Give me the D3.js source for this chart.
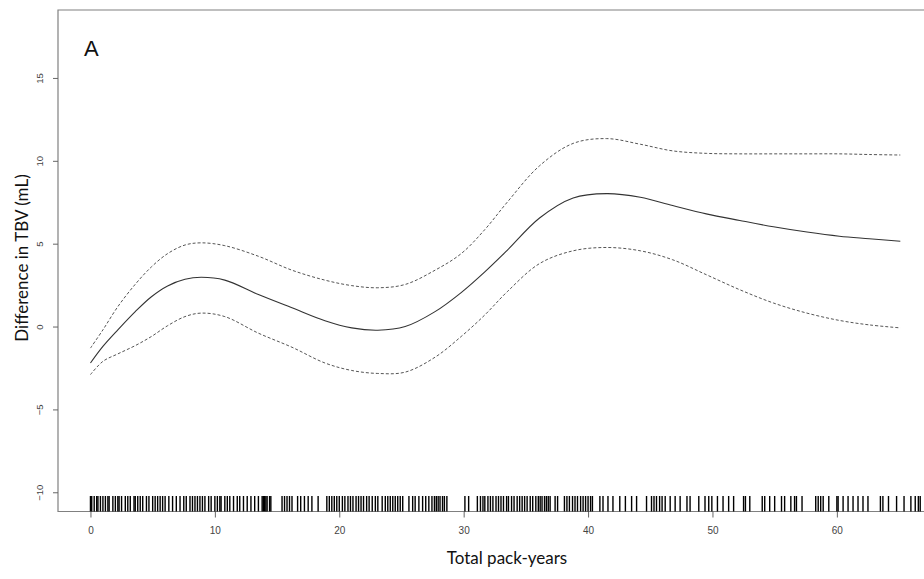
<!DOCTYPE html>
<html>
<head>
<meta charset="utf-8">
<script src="https://cdn.jsdelivr.net/npm/d3@7"></script>
<style>
  body { margin: 0; background: #fff; }
  svg { display: block; }
</style>
</head>
<body>
<div id="chart"></div>
<script>
// pack-years grid and spline estimates
const packYears = [0, 1, 2.2, 3.6, 4.9, 6.2, 7.6, 8.9, 10.8, 13.5, 16.2, 18.85, 21, 23.1, 25.3, 27.7,
  29.8, 31.7, 33.5, 36.1, 38.8, 41.5, 44.2, 46.8, 49.5, 52.2, 54.9, 57.6, 60.2, 62.6, 65.1];
const fit = [-2.2, -1.2, -0.2, 0.9, 1.8, 2.45, 2.85, 2.97, 2.8, 1.93, 1.13, 0.35, -0.08, -0.22, 0.0, 0.9,
  2.05, 3.3, 4.6, 6.55, 7.76, 8.02, 7.8, 7.3, 6.8, 6.4, 6.02, 5.7, 5.45, 5.3, 5.15];
const upper = [-1.3, -0.2, 1.2, 2.55, 3.6, 4.4, 4.92, 5.05, 4.88, 4.24, 3.4, 2.8, 2.47, 2.34, 2.54, 3.4,
  4.4, 5.85, 7.5, 9.7, 11.05, 11.34, 11.0, 10.6, 10.45, 10.42, 10.42, 10.42, 10.42, 10.38, 10.35];
const lower = [-2.9, -2.1, -1.65, -1.15, -0.6, 0.05, 0.6, 0.81, 0.6, -0.4, -1.25, -2.2, -2.65, -2.83, -2.75, -1.85,
  -0.6, 0.7, 2.1, 3.8, 4.57, 4.77, 4.57, 4.03, 3.13, 2.22, 1.42, 0.81, 0.37, 0.1, -0.08];

// rug of observed pack-years
const rug = [
  0, 0.1, 0.3, 0.5, 0.6, 0.8, 1, 1.2, 1.4, 1.5, 1.8, 2, 2.2, 2.3, 2.5, 2.8, 3, 3.2, 3.5, 3.6, 3.8, 4, 4.2,
  4.5, 4.7, 5, 5.2, 5.4, 5.6, 5.8, 6, 6.3, 6.6, 6.9, 7.2, 7.5, 7.7, 8, 8.2, 8.4, 8.6, 8.8, 9, 9.2, 9.5,
  9.7, 10, 10.2, 10.4, 10.5, 10.8, 11, 11.2, 11.5, 11.8, 12, 12.3, 12.6, 12.9, 13.2, 13.5, 13.8, 13.9,
  14, 14.1, 14.2, 14.4, 14.5, 15.4, 15.6, 15.8, 16, 16.2,
  16.65, 16.9, 17.2, 17.5, 17.8, 18.3, 19.0, 19.2, 19.4, 19.6, 19.8, 20.0, 20.25, 20.45, 20.7, 20.9,
  21.1, 21.35, 21.55, 21.75, 21.95, 22.2, 22.4, 22.65, 22.9, 23.1, 23.45, 23.7, 23.9, 24.1, 24.3, 24.5,
  24.7, 24.9, 25.1, 25.6, 25.9, 26.1, 26.4, 26.7, 26.95, 27.2, 27.45, 27.65, 27.8, 27.95, 28.1, 28.3,
  28.45, 28.65, 30.1, 30.4, 31.1, 31.35, 31.55, 31.7, 31.95, 32.15, 32.35, 32.6, 32.8, 33.0, 33.2,
  33.45, 33.6, 33.85, 34.05, 34.3, 34.5, 34.7, 34.9, 35.1, 35.35, 35.55, 35.8, 36.0, 36.15, 36.3, 36.5,
  36.65, 36.8, 36.95, 37.35, 37.55, 38.1, 38.3, 38.5, 38.75, 38.95, 39.15, 39.4, 39.6, 39.8, 40.0,
  40.2, 40.35, 40.95, 41.2, 41.6, 42.0, 42.55, 43.0, 43.5, 43.9, 44.7, 45.1, 45.3, 45.5, 45.75, 45.95,
  46.2, 46.6, 47.0, 47.4, 47.95, 48.2, 48.9, 49.4, 49.7, 49.95,
  50.4, 50.85, 51.3, 51.7, 52.5, 52.65, 53.0, 54.0, 54.2, 54.6, 55.0, 55.55, 55.8, 56.3, 56.6, 56.75,
  57.2, 58.3, 58.5, 58.7, 58.9, 59.35, 60.0, 60.1, 60.5, 60.9, 61.3, 61.7, 62.1, 62.5, 63.5, 63.7,
  64.15, 64.8, 65.4, 65.95, 66.3, 66.55, 66.7
];

const xTicks = [0, 10, 20, 30, 40, 50, 60];
const yTicks = [-10, -5, 0, 5, 10, 15];

const w = 924;
const h = 579;
const plotLeft = 58;
const plotTop = 10;
const plotBottom = 511.5;

const svg = d3.select('#chart')
  .append('svg')
  .attr('width', w)
  .attr('height', h);

const xScale = d3.scaleLinear()
  .domain([-2.61, 67.5])
  .range([plotLeft, plotLeft + 70.11 * 12.44]);

const yScale = d3.scaleLinear()
  .domain([-11.16, 19.1])
  .range([plotBottom, plotTop]);

// frame (right side falls outside the picture)
svg.append('path')
  .attr('d', `M${w + 5},${plotTop}H${plotLeft}V${plotBottom}H${w + 5}`)
  .attr('fill', 'none')
  .attr('stroke', '#808080')
  .attr('stroke-width', 1.2);

const xAxis = d3.axisBottom(xScale)
  .tickValues(xTicks)
  .tickSize(6)
  .tickSizeOuter(0);

const gx = svg.append('g')
  .attr('transform', `translate(0,${plotBottom})`)
  .call(xAxis);
gx.select('.domain').remove();
gx.selectAll('line').attr('stroke', '#666');
gx.selectAll('text')
  .attr('y', 15)
  .attr('fill', '#444')
  .attr('font-family', 'Liberation Sans, Arial, sans-serif')
  .attr('font-size', '10px');

const yAxis = d3.axisLeft(yScale)
  .tickValues(yTicks)
  .tickSize(5)
  .tickSizeOuter(0);

const gy = svg.append('g')
  .attr('transform', `translate(${plotLeft},0)`)
  .call(yAxis);
gy.select('.domain').remove();
gy.selectAll('line').attr('stroke', '#666');
gy.selectAll('text')
  .attr('x', null)
  .attr('dy', null)
  .attr('text-anchor', 'middle')
  .attr('transform', 'translate(-15,0) rotate(-90)')
  .attr('fill', '#444')
  .attr('font-family', 'Liberation Sans, Arial, sans-serif')
  .attr('font-size', '9.5px');

// rug
svg.append('g')
  .selectAll('line')
  .data(rug)
  .enter()
  .append('line')
  .attr('x1', d => xScale(d))
  .attr('x2', d => xScale(d))
  .attr('y1', plotBottom - 15.5)
  .attr('y2', plotBottom)
  .attr('stroke', '#000')
  .attr('stroke-width', 1.4);

const line = series => d3.line()
  .x((d, i) => xScale(packYears[i]))
  .y(d => yScale(d))
  .curve(d3.curveCatmullRom.alpha(0.5))(series);

svg.append('path')
  .attr('d', line(fit))
  .attr('fill', 'none')
  .attr('stroke', '#333')
  .attr('stroke-width', 1.1);

[upper, lower].forEach(s => {
  svg.append('path')
    .attr('d', line(s))
    .attr('fill', 'none')
    .attr('stroke', '#555')
    .attr('stroke-width', 1)
    .attr('stroke-dasharray', '3,2');
});

svg.append('text')
  .attr('x', 84)
  .attr('y', 56)
  .attr('font-family', 'Liberation Sans, Arial, sans-serif')
  .attr('font-size', '22px')
  .attr('fill', '#111')
  .text('A');

svg.append('text')
  .attr('x', 507)
  .attr('y', 564)
  .attr('text-anchor', 'middle')
  .attr('font-family', 'Lato, sans-serif')
  .attr('font-size', '17px')
  .attr('fill', '#111')
  .text('Total pack-years');

svg.append('text')
  .attr('transform', 'translate(28,258) rotate(-90)')
  .attr('text-anchor', 'middle')
  .attr('font-family', 'Lato, sans-serif')
  .attr('font-size', '17px')
  .attr('fill', '#111')
  .text('Difference in TBV (mL)');
</script>
</body>
</html>
